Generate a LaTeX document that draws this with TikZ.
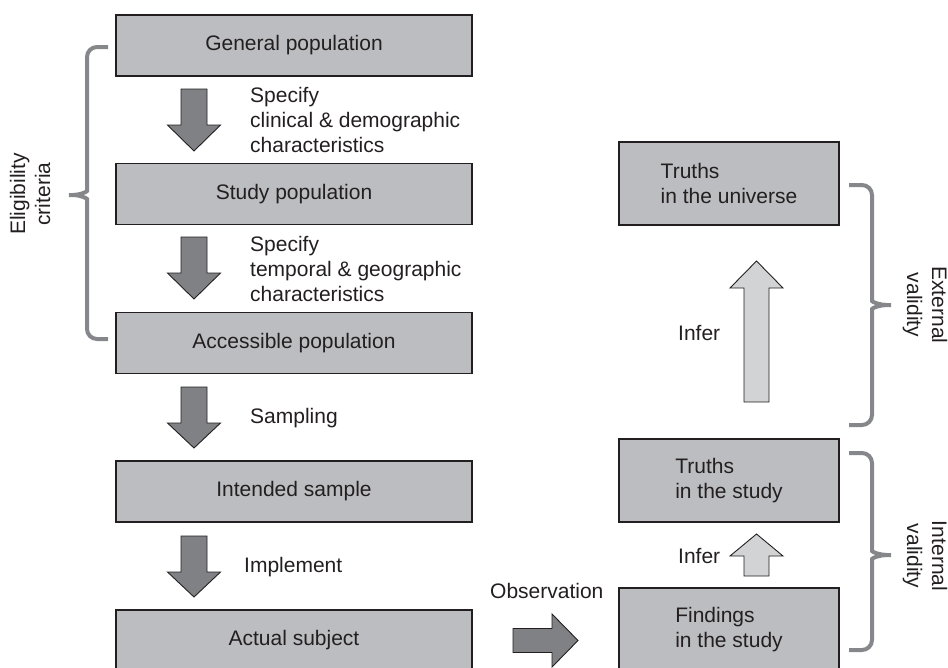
\documentclass[tikz,border=0pt]{standalone}
\usepackage{fontspec}
\setmainfont{Liberation Sans}
\definecolor{boxfill}{HTML}{BCBDC0}
\definecolor{edge}{HTML}{231F20}
\definecolor{txt}{HTML}{231F20}
\definecolor{darkarrow}{HTML}{808184}
\definecolor{lightarrow}{HTML}{D1D3D4}
\definecolor{bracecol}{HTML}{86878A}
\newcommand\mydnarrow[4]{\draw[darr] (#1-13,#2) -- (#1+13,#2) -- (#1+13,#3) -- (#1+26.5,#3) -- (#1,#4) -- (#1-26.5,#3) -- (#1-13,#3) -- cycle;}
\newcommand\myuparrow[5]{\draw[#5] (#1-12.5,#2) -- (#1+12.5,#2) -- (#1+12.5,#3) -- (#1+26.5,#3) -- (#1,#4) -- (#1-26.5,#3) -- (#1-12.5,#3) -- cycle;}
\newcommand\myrbrace[3]{\draw[brace, rounded corners=10pt] (849,#1) -- (872,#1) -- (872,#3-14) .. controls (872,#3-3) and (880,#3) .. (897,#3) .. controls (880,#3) and (872,#3+3) .. (872,#3+14) -- (872,#2) -- (849,#2);}
\begin{document}
\begin{tikzpicture}[x=1pt,y=-1pt,
  every node/.style={font=\fontsize{21}{25}\selectfont, text=txt, inner sep=0pt},
  box/.style={draw=edge, line width=1.2pt, fill=boxfill, minimum width=356pt, minimum height=61pt},
  rbox/.style={draw=edge, line width=1.2pt, fill=boxfill, minimum width=220pt, minimum height=83pt, align=left},
  darr/.style={draw=edge, line width=0.9pt, fill=darkarrow},
  larr/.style={draw=edge, line width=0.9pt, fill=lightarrow},
  brace/.style={draw=bracecol, line width=4pt},
  lbl/.style={align=left, anchor=west}]
\useasboundingbox (0,0) rectangle (948,667);
% left boxes
\node[box] (gp) at (294,45.5) {General population};
\node[box] (sp) at (294,194) {Study population};
\node[box] (ap) at (294,343) {Accessible population};
\node[box] (is) at (294,491.5) {Intended sample};
\node[box] (as) at (294,640.5) {Actual subject};
% right boxes
\node[rbox] (tu) at (729,183.5) {Truths\\in the universe};
\node[rbox] (ts) at (729,480.5) {Truths\\in the study};
\node[rbox] (fs) at (729,629.5) {Findings\\in the study};
% down arrows
\mydnarrow{194}{89}{125}{151}
\mydnarrow{194}{237}{273}{299}
\mydnarrow{194}{387}{423}{448}
\mydnarrow{194}{536}{572}{597}
% labels
\node[lbl] (l1) at (250,120.4) {Specify\\clinical \& demographic\\characteristics};
\node[lbl] (l2) at (250,269) {Specify\\temporal \& geographic\\characteristics};
\node[anchor=base west] (l3) at (250,423) {Sampling};
\node[anchor=base west] (l4) at (244,572) {Implement};
% up arrows
\myuparrow{756.5}{402}{288}{261}{larr}
\myuparrow{756.5}{576}{556}{534}{larr}
\node[anchor=base west] (i1) at (678,340) {Infer};
\node[anchor=base west] (i2) at (678,563) {Infer};
% observation arrow
\draw[darr] (513,628.5) -- (552,628.5) -- (552,614) -- (578,640.5) -- (552,667) -- (552,652.5) -- (513,652.5) -- cycle;
\node[anchor=base west] (ob) at (490,598) {Observation};
% braces
\draw[brace, rounded corners=10pt] (108,47) -- (87,47) -- (87,181) .. controls (87,192) and (79,195) .. (63,195) .. controls (79,195) and (87,198) .. (87,209) -- (87,339) -- (108,339);
\myrbrace{185}{425}{305}
\myrbrace{453}{650}{555}
\node[rotate=90, align=center] (el) at (30,194) {Eligibility\\criteria};
\node[rotate=-90, align=center] (ev) at (925,305) {External\\validity};
\node[rotate=-90, align=center] (iv) at (925,556) {Internal\\validity};
\end{tikzpicture}
\end{document}
